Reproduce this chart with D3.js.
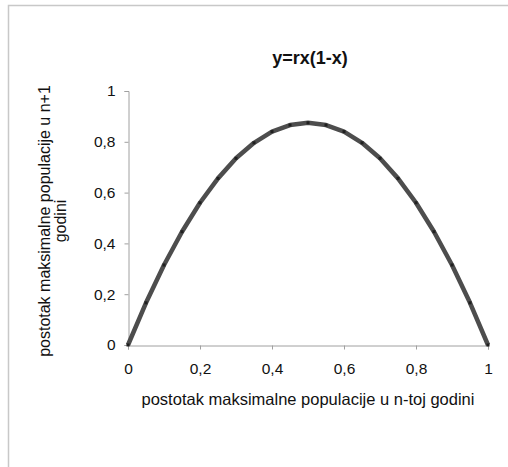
<!DOCTYPE html>
<html><head><meta charset="utf-8">
<script src="https://cdn.jsdelivr.net/npm/d3@7"></script>
<style>body{margin:0;background:#fff}svg{display:block}text{font-family:"Liberation Sans",Arial,sans-serif}</style>
</head><body>
<script>
const xValues = [0,0.05,0.1,0.15,0.2,0.25,0.3,0.35,0.4,0.45,0.5,0.55,0.6,0.65,0.7,0.75,0.8,0.85,0.9,0.95,1];
const yValues = [0,0.166,0.315,0.446,0.56,0.656,0.735,0.796,0.84,0.866,0.875,0.866,0.84,0.796,0.735,0.656,0.56,0.446,0.315,0.166,0];
const xTicks = [0,0.2,0.4,0.6,0.8,1];
const yTicks = [0,0.2,0.4,0.6,0.8,1];
const title = "y=rx(1-x)";
const xTitle = "postotak maksimalne populacije u n-toj godini";
const yTitle = ["postotak maksimalne populacije u n+1", "godini"];

const W = 508, H = 467;
const svg = d3.select("body").append("svg").attr("width", W).attr("height", H);
const fmt = d => String(d).replace(".", ",");

// frame
svg.append("path").attr("d", `M8.5,${H} V5.5 H${W}`).attr("fill","none").attr("stroke","#c8c8c8").attr("stroke-width",1.5);

const x = d3.scaleLinear().domain([0,1]).range([128,488]);
const y = d3.scaleLinear().domain([0,1]).range([345,91]);

const axisColor = "#a0a0a0";
const gx = svg.append("g").attr("transform","translate(0,345.5)")
  .call(d3.axisBottom(x).tickValues(xTicks).tickFormat(fmt).tickSize(4).tickPadding(13));
const gy = svg.append("g").attr("transform","translate(128.5,0)")
  .call(d3.axisLeft(y).tickValues(yTicks).tickFormat(fmt).tickSize(4).tickPadding(9));
[gx,gy].forEach(g=>{
  g.select(".domain").attr("stroke",axisColor);
  g.selectAll(".tick line").attr("stroke",axisColor);
  g.selectAll(".tick text").attr("fill","#111").style("font-size","15.5px").style("font-family",'"Liberation Sans",Arial,sans-serif');
});

const pts = xValues.map((v,i)=>[v,yValues[i]]);
svg.append("path").datum(pts)
  .attr("d", d3.line().x(d=>x(d[0])).y(d=>y(d[1])))
  .attr("fill","none").attr("stroke","#4d4d4d").attr("stroke-width",4.5).attr("stroke-linejoin","round");
svg.selectAll("rect.m").data(pts).enter().append("rect").attr("class","m")
  .attr("x",d=>x(d[0])-1.5).attr("y",d=>y(d[1])-1.5).attr("width",3).attr("height",3).attr("fill","#1f1f1f");

svg.append("text").attr("x",310).attr("y",64).attr("text-anchor","middle")
  .style("font-size","18px").style("font-weight","bold").attr("fill","#111").text(title);
svg.append("text").attr("x",308).attr("y",405).attr("text-anchor","middle")
  .style("font-size","16.5px").attr("fill","#111").text(xTitle);
const yt = svg.append("text").attr("transform","translate(50,221) rotate(-90)").attr("text-anchor","middle")
  .style("font-size","16px").attr("fill","#111");
yt.append("tspan").attr("x",0).attr("dy",0).text(yTitle[0]);
yt.append("tspan").attr("x",0).attr("dy",16).text(yTitle[1]);
</script>
</body></html>
